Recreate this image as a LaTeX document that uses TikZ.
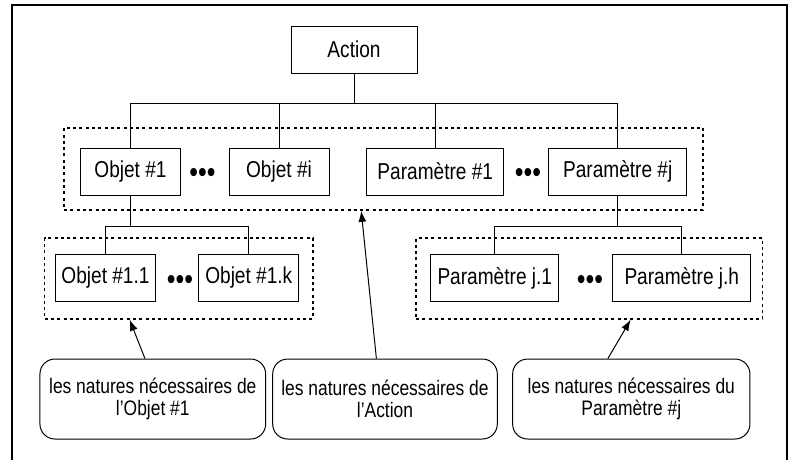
\documentclass[tikz,border=0pt]{standalone}
\usepackage{fontspec}
\setmainfont{Liberation Sans}[FakeStretch=0.83]
\usepackage{tikz}
\usetikzlibrary{arrows.meta}
\tikzstyle{box}=[draw,rectangle,minimum height=47pt,inner sep=0pt,line width=1pt,font=\fontsize{23}{26}\selectfont]
\tikzstyle{bubble}=[draw,rectangle,rounded corners=15pt,minimum height=80pt,inner sep=0pt,align=center,line width=1pt,font=\fontsize{21}{22.5}\selectfont]
\tikzstyle{group}=[draw,rectangle,dash pattern=on 3pt off 3.3pt,line width=1.5pt,inner sep=0pt]
\tikzstyle{dots}=[inner sep=0pt,font=\fontsize{30}{30}\selectfont]
\tikzstyle{link} = [draw,line width=1pt,-]

\begin{document}
\begin{tikzpicture}[x=1pt,y=-1pt]
      \tikzset{pointer/.style = {draw,line width=1pt,-{Latex[length=11pt,width=8pt]}}}
      \useasboundingbox (0,0) rectangle (790,459);
      \draw[line width=2pt] (12,462) -- (12,5) -- (787,5) -- (787,462);
      % dotted groups
      \node[group,minimum width=639pt,minimum height=82.3pt] (grpact) at (383.5,168.9) {};
      \node[group,minimum width=268.3pt,minimum height=81pt] (grpobj) at (178.85,278.5) {};
      \node[group,minimum width=346.7pt,minimum height=81pt] (grppar) at (589.35,278.5) {};
      % boxes
      \node[box,minimum width=126pt] (act) at (354,49.5) {Action};
      \node[box,minimum width=99.6pt] (obj1) at (130.5,171.5) {Objet \#1};
      \node[box,minimum width=100pt] (obji) at (279,171.5) {Objet \#i};
      \node[box,minimum width=137.3pt] (par1) at (435.3,171.5) {Paramètre \#1};
      \node[box,minimum width=138pt] (parj) at (617.7,171.5) {Paramètre \#j};
      \node[box,minimum width=100.4pt] (obj11) at (105.5,278) {Objet \#1.1};
      \node[box,minimum width=100.3pt] (obj1k) at (248.8,278) {Objet \#1.k};
      \node[box,minimum width=128.3pt] (parj1) at (494.8,278) {Paramètre j.1};
      \node[box,minimum width=138.3pt] (parjh) at (681.8,278) {Paramètre j.h};
      \node[dots] (dots1) at (202.5,175) {•••};
      \node[dots] (dots2) at (528,175) {•••};
      \node[dots] (dots3) at (180,282) {•••};
      \node[dots] (dots4) at (590,282) {•••};
      % notes
      \node[bubble,minimum width=225.7pt] (natobj) at (152.8,399) {les natures nécessaires de\\l’Objet \#1};
      \node[bubble,minimum width=224.6pt] (natact) at (385,399) {les natures nécessaires de\\l’Action};
      \node[bubble,minimum width=237.3pt] (natpar) at (631.3,399) {les natures nécessaires du\\Paramètre \#j};
      % tree
      \coordinate (bus) at (354,103);
      \coordinate (subobj) at (130.5,226);
      \coordinate (subpar) at (617.7,226);
      \draw[link] (act) -- (bus);
      \draw[link] (bus) -| (obj1);
      \draw[link] (bus) -| (obji);
      \draw[link] (bus) -| (par1);
      \draw[link] (bus) -| (parj);
      \draw[link] (obj1) -- (subobj);
      \draw[link] (subobj) -| (obj11);
      \draw[link] (subobj) -| (obj1k);
      \draw[link] (parj) -- (subpar);
      \draw[link] (subpar) -| (parj1);
      \draw[link] (subpar) -| (parjh);
      % arrows
      \draw[pointer] (natobj.101) -- (grpobj.220);
      \draw[pointer] (natact.102) -- (grpact.242);
      \draw[pointer] (natpar.120) -- (grppar.315);
    \end{tikzpicture}
\end{document}
